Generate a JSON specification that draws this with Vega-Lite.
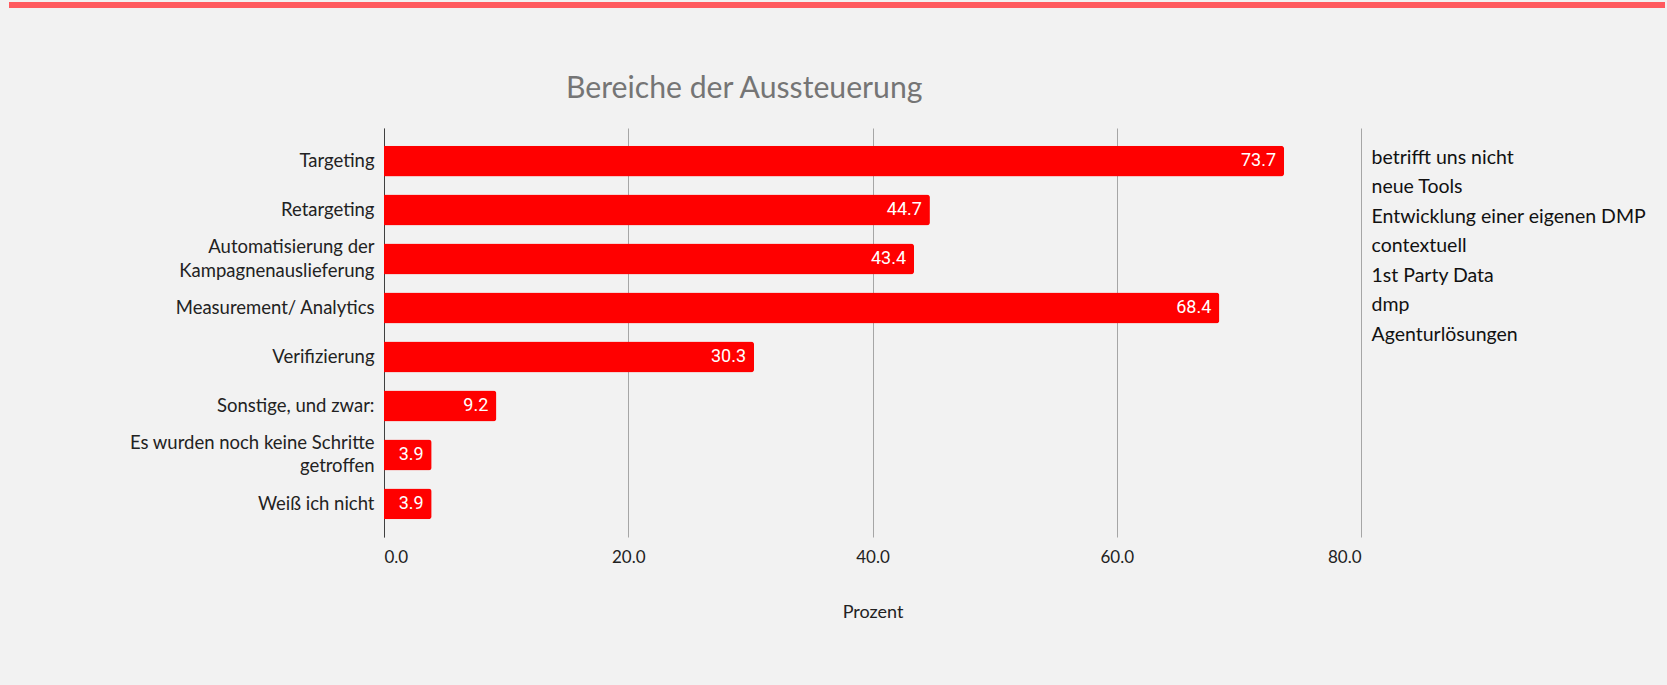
{
  "$schema": "https://vega.github.io/schema/vega-lite/v6.json",
  "autosize": {"type": "none"},
  "width": 977,
  "height": 409,
  "padding": {"left": 384, "top": 128, "right": 306, "bottom": 148},
  "background": "#F2F2F2",
  "title": {
    "text": "Bereiche der Aussteuerung",
    "anchor": "start",
    "frame": "group",
    "dx": 182,
    "offset": -126,
    "baseline": "alphabetic",
    "font": "Lato",
    "fontSize": 30.2,
    "fontWeight": "normal",
    "color": "#757575"
  },
  "datasets": {
    "bereiche": [
      {"bereich": "Targeting", "wert": 73.7},
      {"bereich": "Retargeting", "wert": 44.7},
      {"bereich": "Automatisierung der Kampagnenauslieferung", "wert": 43.4},
      {"bereich": "Measurement/ Analytics", "wert": 68.4},
      {"bereich": "Verifizierung", "wert": 30.3},
      {"bereich": "Sonstige, und zwar:", "wert": 9.2},
      {"bereich": "Es wurden noch keine Schritte getroffen", "wert": 3.9},
      {"bereich": "Weiß ich nicht", "wert": 3.9}
    ],
    "sonstige": [
      {"antwort": "betrifft uns nicht"},
      {"antwort": "neue Tools"},
      {"antwort": "Entwicklung einer eigenen DMP"},
      {"antwort": "contextuell"},
      {"antwort": "1st Party Data"},
      {"antwort": "dmp"},
      {"antwort": "Agenturlösungen"}
    ]
  },
  "config": {
    "view": {"stroke": null},
    "axis": {"labelFont": "Lato", "titleFont": "Lato"},
    "legend": {"labelFont": "Lato"}
  },
  "layer": [
    {
      "data": {"name": "bereiche"},
      "mark": {"type": "bar", "color": "#FF0000", "cornerRadiusEnd": 3, "strokeWidth": 0},
      "encoding": {
        "y": {
          "field": "bereich",
          "type": "nominal",
          "sort": null,
          "scale": {"paddingInner": 0.37, "paddingOuter": 0.36},
          "axis": {
            "title": null,
            "domain": true,
            "domainColor": "#404040",
            "domainWidth": 1,
            "ticks": false,
            "grid": false,
            "labelPadding": 10,
            "labelFontSize": 18.5,
            "labelColor": "#222222",
            "labelLineHeight": 23.5,
            "labelLimit": 400,
            "labelOffset": {
              "condition": {
                "test": "datum.value == 'Automatisierung der Kampagnenauslieferung' || datum.value == 'Es wurden noch keine Schritte getroffen'",
                "value": -12
              },
              "value": 0
            },
            "labelExpr": "datum.label == 'Automatisierung der Kampagnenauslieferung' ? ['Automatisierung der', 'Kampagnenauslieferung'] : datum.label == 'Es wurden noch keine Schritte getroffen' ? ['Es wurden noch keine Schritte', 'getroffen'] : datum.label"
          }
        },
        "x": {
          "field": "wert",
          "type": "quantitative",
          "scale": {"domain": [0, 80], "nice": false},
          "axis": {
            "values": [0, 20, 40, 60, 80],
            "format": ".1f",
            "title": "Prozent",
            "grid": true,
            "gridColor": "#A6A6A6",
            "gridWidth": 1,
            "domain": false,
            "ticks": false,
            "labelPadding": 12,
            "labelFontSize": 17,
            "labelColor": "#222222",
            "titlePadding": 38,
            "titleFontSize": 18,
            "titleFontWeight": "normal",
            "titleColor": "#222222"
          }
        },
        "stroke": {
          "field": "wert",
          "type": "quantitative",
          "scale": {"range": ["#FF5A5F", "#FF5A5F"]},
          "legend": {
            "orient": "none",
            "legendX": -375,
            "legendY": -126,
            "direction": "horizontal",
            "gradientLength": 1656,
            "gradientThickness": 6,
            "gradientStrokeWidth": 0,
            "labelExpr": "''",
            "labelOpacity": 0,
            "tickCount": 2,
            "title": null,
            "padding": 0
          }
        }
      }
    },
    {
      "data": {"name": "bereiche"},
      "mark": {"type": "text", "align": "right", "baseline": "middle", "dx": -8, "color": "#FFFFFF", "font": "Roboto", "fontSize": 18},
      "encoding": {
        "y": {"field": "bereich", "type": "nominal", "sort": null},
        "x": {"field": "wert", "type": "quantitative"},
        "text": {"field": "wert", "type": "quantitative", "format": ".1f"}
      }
    },
    {
      "data": {"name": "sonstige"},
      "mark": {"type": "point", "opacity": 0},
      "encoding": {
        "color": {
          "field": "antwort",
          "type": "nominal",
          "sort": null,
          "legend": {
            "orient": "none",
            "legendX": 968,
            "legendY": 20,
            "title": null,
            "symbolSize": 0,
            "symbolOpacity": 0,
            "symbolStrokeWidth": 0,
            "labelOffset": 0,
            "labelFontSize": 19.5,
            "labelColor": "#111111",
            "labelLimit": 500,
            "rowPadding": 8.5,
            "padding": 0
          }
        }
      }
    }
  ]
}
